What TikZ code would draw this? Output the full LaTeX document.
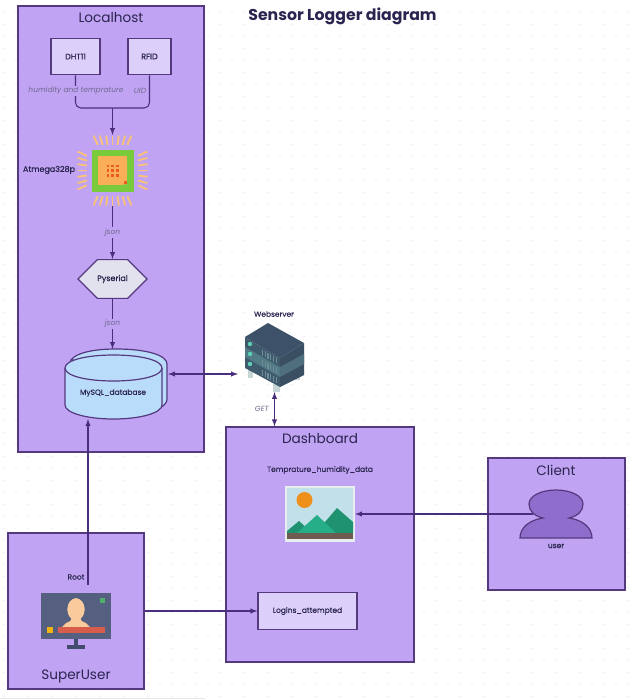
\documentclass[tikz,border=0pt]{standalone}
\usepackage{fontspec}
\setmainfont{Poppins}
\newfontfamily\labelfont[FakeBold=0.3]{Poppins}
\newfontfamily\strongfont[FakeBold=0.6]{Poppins}
\usetikzlibrary{shapes,shapes.misc,arrows}

\definecolor{groupfill}{HTML}{C0A3F2}
\definecolor{groupline}{HTML}{54397F}
\definecolor{boxfill}{HTML}{DCD0FA}
\definecolor{hexfill}{HTML}{E2E2EE}
\definecolor{dbfill}{HTML}{BADCFB}
\definecolor{userfill}{HTML}{8F6DCD}
\definecolor{linkcol}{HTML}{4A2E7E}
\definecolor{inkcol}{HTML}{2A2550}
\definecolor{edgecol}{HTML}{6F6A90}
\definecolor{legcol}{HTML}{F8C27A}
\definecolor{padcol}{HTML}{FBAE58}
\definecolor{chipcol}{HTML}{7ACB3C}
\definecolor{redcol}{HTML}{EE5A24}
\definecolor{srvleft}{HTML}{3F5A6C}
\definecolor{srvleftmid}{HTML}{527A85}
\definecolor{srvright}{HTML}{3A4F62}
\definecolor{srvrightmid}{HTML}{4F6F7C}
\definecolor{srvtop}{HTML}{3D5268}
\definecolor{srvled}{HTML}{5FD0B8}
\definecolor{srvslot}{HTML}{6F8C99}
\definecolor{srvfoot}{HTML}{C8D5D6}
\definecolor{picframe}{HTML}{E8EDEE}
\definecolor{picsky}{HTML}{C2E0EA}
\definecolor{picsun}{HTML}{F0901C}
\definecolor{picback}{HTML}{1F9270}
\definecolor{picfront}{HTML}{26AE88}
\definecolor{picground}{HTML}{6E5C50}
\definecolor{screencol}{HTML}{556080}
\definecolor{standcol}{HTML}{434C6D}
\definecolor{skincol}{HTML}{F9CB9C}
\definecolor{barcol}{HTML}{D65C4B}
\definecolor{yellowcol}{HTML}{EFB40F}
\definecolor{greencol}{HTML}{4DAF6A}

\tikzset{
  group/.style={draw=groupline,fill=groupfill,line width=0.9pt,inner sep=0pt},
  device/.style={draw=groupline,fill=boxfill,line width=1.15pt,inner sep=0pt,text=inkcol,font=\fontsize{5.6}{7}\labelfont},
  icon/.style={inner sep=0pt,outer sep=0pt},
  grouptitle/.style={text=inkcol,inner sep=0pt,font=\fontsize{10.2}{12}\selectfont},
  smalltext/.style={text=inkcol,inner sep=0pt,font=\fontsize{5.6}{7}\labelfont},
  strongtext/.style={font=\fontsize{6}{7}\strongfont},
  edgelabel/.style={text=edgecol,inner sep=1pt,font=\fontsize{5.6}{7}\selectfont\itshape},
  link/.style={draw=linkcol,line width=0.8pt,>=latex},
}

\begin{document}
\begin{tikzpicture}[x=0.75pt,y=-0.75pt]

  \useasboundingbox (0,0) rectangle (638,699);
  \fill[white] (0,0) rectangle (638,699);

  % dotted canvas
  \foreach \i in {0,...,52}
    \foreach \j in {1,...,58}
      \fill[black!13] (4+12*\i,0.3+12*\j) circle[radius=0.6];
  \fill[black!10] (0,697.5) rectangle (205,699);

  % groups
  \node[group,minimum width=139.5pt,minimum height=334.5pt] (localhost) at (111,229) {};
  \node[group,minimum width=141pt,minimum height=176.25pt] (dashboard) at (320,544.5) {};
  \node[group,minimum width=102.75pt,minimum height=99pt] (client) at (556.5,524) {};
  \node[group,minimum width=102pt,minimum height=117pt] (superuser) at (76,611) {};

  \node[grouptitle] (localhosttitle) at (111,18) {Localhost};
  \node[grouptitle] (dashboardtitle) at (320,439) {Dashboard};
  \node[grouptitle] (clienttitle) at (556,470) {Client};
  \node[grouptitle] (superusertitle) at (76,676.5) {SuperUser};
  \node[text=inkcol,inner sep=0pt,font=\fontsize{11.8}{14}\selectfont\bfseries] (title) at (342.5,16.5) {Sensor Logger diagram};

  % sensors
  \node[device,strongtext,minimum width=37pt,minimum height=27pt] (dht) at (75.5,56.5) {DHT11};
  \node[device,strongtext,minimum width=32.5pt,minimum height=27pt] (rfid) at (149.5,56.5) {RFID};

  % chip
  \node[icon,minimum width=53pt,minimum height=53.25pt] (chip) at (112.5,170.5) {};
  \node[smalltext,strongtext] (atmega) at (49,170) {Atmega328p};
  \foreach \r in {0,90,180,270}
    \foreach \k in {-3,...,3}
      \draw[legcol,line width=1.4pt,shift={(chip.center)},rotate=\r]
        (\k*5,-25.5) .. controls (\k*5,-29) and (\k*6.2,-31) .. (\k*6.2,-35);
  \fill[chipcol] (91.5,149.5) rectangle (133.5,191.5);
  \fill[padcol] (98,156) rectangle (127,184.5);
  \fill[chipcol] (122.5,184.5) -- (127,184.5) -- (127,180) arc[start angle=0,end angle=90,radius=4.5] -- cycle;
  \fill[redcol] (123.7,181.2) rectangle (126.5,184);
  \foreach \i in {0,1,2}
    \foreach \j in {0,1,2}
      \fill[redcol] (106.5+4.7*\i,164.5+4.7*\j) rectangle +(2.6,2.6);

  % pyserial and database
  \node[chamfered rectangle,chamfered rectangle xsep=11.5pt,chamfered rectangle ysep=14pt,draw=groupline,fill=hexfill,line width=0.9pt,minimum width=51.75pt,minimum height=28.5pt,inner sep=0pt,text=inkcol,strongtext] (pyserial) at (112.5,279) {Pyserial};

  \node[icon,minimum width=76.5pt,minimum height=52.5pt] (db) at (116,384) {};
  \draw[draw=groupline,fill=dbfill,line width=0.9pt] (71,360) .. controls (76,353) and (93,349) .. (116,349) .. controls (146,349) and (167,355) .. (167,364) -- (167,399) .. controls (167,402) and (165,405) .. (160,408) -- (150,408) -- (150,365) -- cycle;
  \draw[draw=groupline,fill=dbfill,line width=0.9pt] (65,368) -- (65,405) .. controls (65,413) and (87,419) .. (113.5,419) .. controls (140,419) and (162,413) .. (162,405) -- (162,368) .. controls (162,360) and (140,355) .. (113.5,355) .. controls (87,355) and (65,360) .. (65,368) -- cycle;
  \draw[draw=groupline,line width=0.9pt] (65,368) .. controls (65,376) and (87,381) .. (113.5,381) .. controls (140,381) and (162,376) .. (162,368);
  \node[smalltext] (dblabel) at (113,393) {MySQL\_database};

  % webserver
  \node[icon,minimum width=44.25pt,minimum height=51.75pt] (server) at (274.5,357.5) {};
  \node[smalltext] (serverlabel) at (274,314) {Webserver};
  \fill[srvfoot] (248,366) rectangle (253,378);
  \fill[srvfoot] (273,384) rectangle (280,392);
  \fill[srvfoot] (295,372) rectangle (300,380);
  \fill[srvleft] (245,337) -- (280,358) -- (280,387) -- (245,368) -- cycle;
  \fill[srvleftmid] (245,347) -- (280,367) -- (280,377) -- (245,357) -- cycle;
  \fill[srvright] (280,358) -- (304,343) -- (304,375) -- (280,387) -- cycle;
  \fill[srvrightmid] (280,367) -- (304,354) -- (304,364) -- (280,377) -- cycle;
  \fill[srvtop] (268,323) -- (304,343) -- (280,358) -- (245,337) -- cycle;
  \foreach \j in {0,1,2} {
    \fill[srvled] (250,344+10*\j) circle[radius=2.2];
    \foreach \i in {0,...,5}
      \fill[srvslot] (262+2.7*\i,349.5+10*\j+1.5*\i) rectangle +(1.2,6);
  }

  % dashboard
  \node[smalltext] (datalabel) at (320,470) {Temprature\_humidity\_data};
  \node[icon,minimum width=52.5pt,minimum height=42pt,fill=picframe] (picture) at (320,514) {};
  \fill[picsky] (287,488) rectangle (353,533);
  \fill[picsun] (304.5,500) circle[radius=8];
  \fill[picback] (287,531) -- (299,521) -- (309,530) -- (325,522) -- (337,508) -- (353,522) -- (353,533) -- (287,533) -- cycle;
  \fill[picfront] (297,533) -- (317,515) -- (336,533) -- cycle;
  \fill[picground] (287,533) rectangle (353,539);
  \node[device,minimum width=74pt,minimum height=27.5pt] (logins) at (307.5,611) {Logins\_attempted};

  % client
  \draw[draw=groupline,fill=userfill,line width=0.9pt] (543,518) .. controls (534,516) and (529,511) .. (529,504) .. controls (529,496) and (541,490) .. (556,490) .. controls (571,490) and (583,496) .. (583,504) .. controls (583,511) and (578,516) .. (569,518) .. controls (583,520) and (592,528) .. (592,538) -- (520,538) .. controls (520,528) and (529,520) .. (543,518) -- cycle;
  \node[smalltext] (userlabel) at (556,546) {user};
  \coordinate (userport) at (533,514);

  % superuser monitor
  \node[icon,minimum width=52.5pt,minimum height=34.5pt,fill=screencol] (monitor) at (76,616) {};
  \fill[standcol] (74,639) rectangle (78,646);
  \fill[standcol] (67,645) rectangle (84.5,648.5);
  \fill[skincol] (66,623) .. controls (72,621) and (72,619) .. (71,618) .. controls (66,615) and (65,600) .. (76,598) .. controls (87,600) and (86,615) .. (81,618) .. controls (80,619) and (80,621) .. (86,623) -- (90,627) -- (62,627) -- cycle;
  \fill[barcol] (58,627) rectangle (105,633);
  \fill[yellowcol] (47,627) rectangle (53,633);
  \fill[greencol] (100,598) rectangle (105,603);
  \node[smalltext] (rootlabel) at (76,577) {Root};
  \coordinate (rootport) at (88,585);

  % connectors
  \coordinate (merge) at (112.5,108);
  \draw[link,rounded corners=4] (dht.south) |- (merge);
  \draw[link,rounded corners=4] (rfid.south) |- (merge);
  \draw[link,->] (merge) -- (chip.north);
  \node[edgelabel,fill=groupfill] (humlabel) at (76,91) {humidity and temprature};
  \node[edgelabel] (uidlabel) at (140,91) {UID};

  \draw[link,->] (chip.south) -- node[edgelabel,fill=groupfill]{json} (pyserial.north);
  \draw[link,->] (pyserial.south) -- node[edgelabel,fill=groupfill,pos=0.5]{json} (pyserial.south |- db.north);

  \coordinate (dbport) at (168,374);
  \coordinate (serverport) at (238,374);
  \draw[link,<->] (dbport) -- (serverport);
  \draw[link,<->] (server.south) -- node[edgelabel,left=3pt]{GET} (server.south |- dashboard.north);
  \draw[link,->] (userport) -- (picture.east);
  \draw[link,->] (rootport) -- (rootport |- db.south);
  \draw[link,->] (logins.west -| superuser.east) -- (logins.west);

\end{tikzpicture}
\end{document}
